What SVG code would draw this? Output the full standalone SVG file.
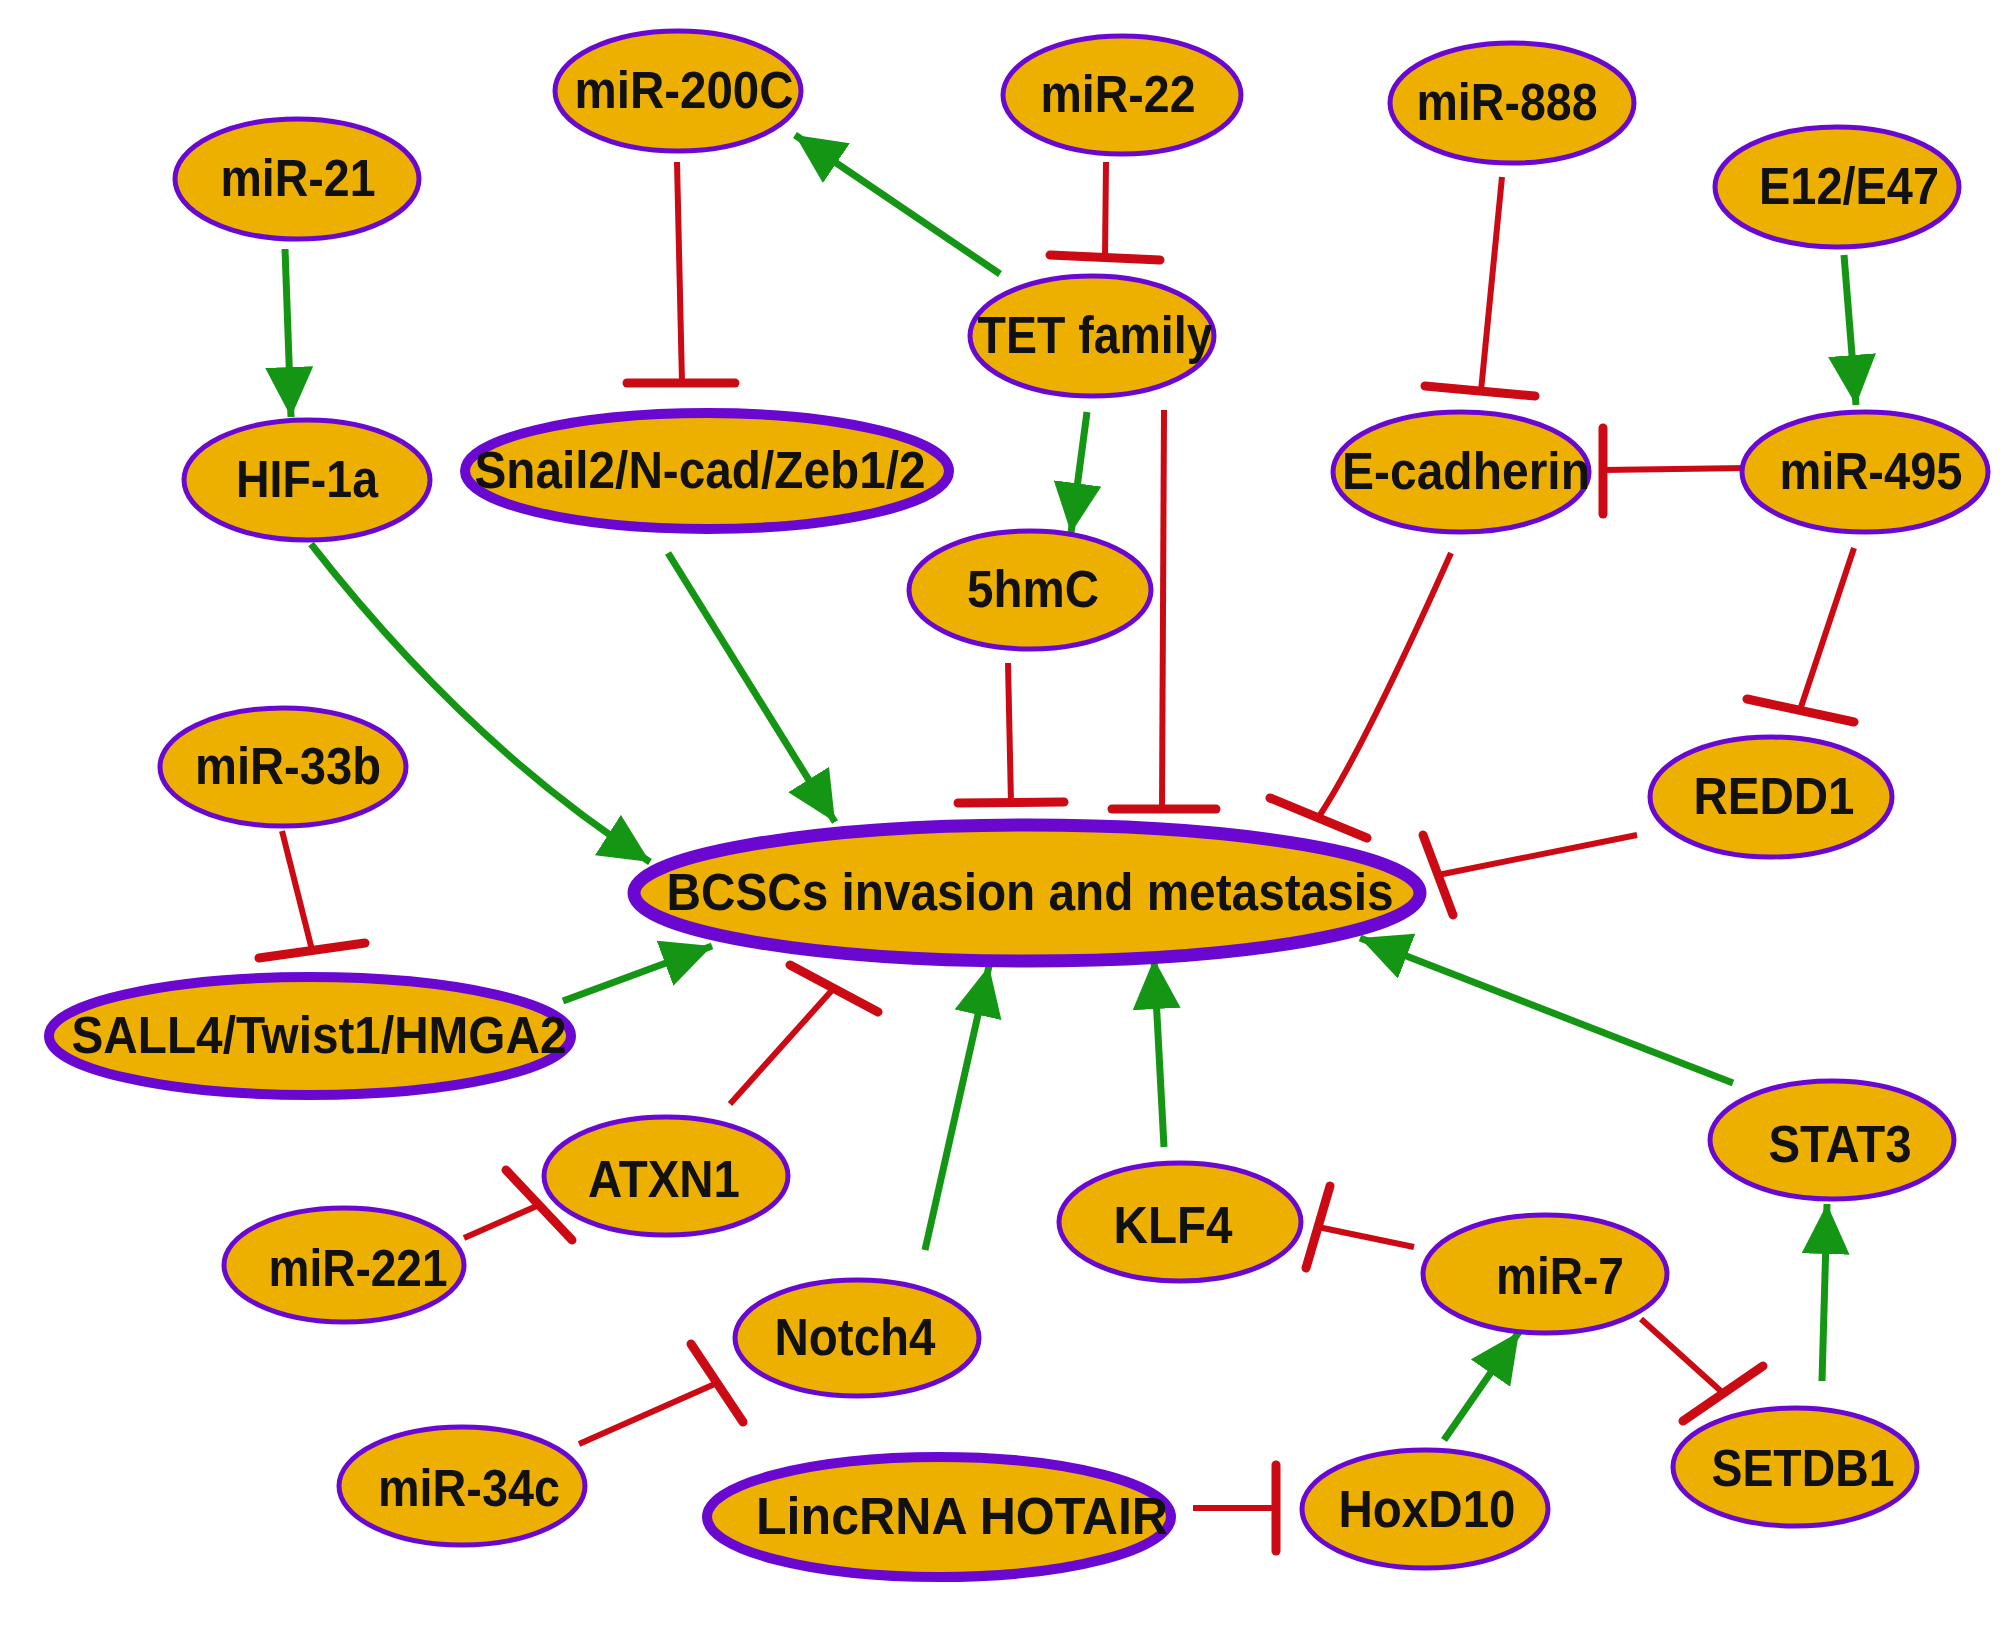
<svg xmlns="http://www.w3.org/2000/svg" width="2008" height="1636" viewBox="0 0 2008 1636">
<style>
.n ellipse{fill:#EEB000;stroke:#6A08D2;stroke-width:5}
.n.k ellipse{stroke-width:10}
.n.kk ellipse{stroke-width:13}
.n text{font-family:"Liberation Sans",Arial,sans-serif;font-weight:bold;font-size:51px;fill:#111;text-anchor:middle}
.act{fill:none;stroke:#149614;stroke-width:7;marker-end:url(#ah)}
.inh{fill:none;stroke:#CC0A14;stroke-width:6}
.bar{stroke:#CC0A14;stroke-width:9;stroke-linecap:round}
</style>
<defs>
<marker id="ah" markerUnits="userSpaceOnUse" viewBox="0 0 50 48" refX="50" refY="24" markerWidth="50" markerHeight="48" orient="auto">
<path d="M0,0 L50,24 L0,48 Z" fill="#149614"/>
</marker>
</defs>
<rect width="2008" height="1636" fill="#fff"/>
<g id="connectors">
<path class="act" d="M285,249 L291,417"/>
<path class="act" d="M1000,274 L795,135"/>
<path class="act" d="M1087,412 L1071,533"/>
<path class="act" d="M1844,255 L1856,405"/>
<path class="act" d="M311,544 Q469,746 650,862"/>
<path class="act" d="M668,553 L835,822"/>
<path class="act" d="M563,1001 L712,946"/>
<path class="act" d="M925,1250 L989,966"/>
<path class="act" d="M1164,1147 L1154,959"/>
<path class="act" d="M1733,1083 L1360,938"/>
<path class="act" d="M1822,1381 L1827,1204"/>
<path class="act" d="M1444,1440 L1519,1332"/>
<path class="inh" d="M677,162 L682,383"/>
<line class="bar" x1="627" y1="383" x2="735" y2="383"/>
<path class="inh" d="M1106,162 L1105,258"/>
<line class="bar" x1="1050" y1="255" x2="1160" y2="260"/>
<path class="inh" d="M1164,410 L1162,809"/>
<line class="bar" x1="1112" y1="809" x2="1216" y2="809"/>
<path class="inh" d="M1008,663 L1011,803"/>
<line class="bar" x1="958" y1="803" x2="1064" y2="802"/>
<path class="inh" d="M1451,553 Q1362,752 1318,818"/>
<line class="bar" x1="1270" y1="798" x2="1367" y2="838"/>
<path class="inh" d="M1502,177 L1481,391"/>
<line class="bar" x1="1425" y1="386" x2="1535" y2="396"/>
<path class="inh" d="M1747,468 L1603,470"/>
<line class="bar" x1="1603" y1="428" x2="1603" y2="514"/>
<path class="inh" d="M1854,548 L1800,710"/>
<line class="bar" x1="1747" y1="699" x2="1854" y2="722"/>
<path class="inh" d="M1637,835 L1438,875"/>
<line class="bar" x1="1423" y1="835" x2="1453" y2="915"/>
<path class="inh" d="M282,831 L312,950"/>
<line class="bar" x1="259" y1="958" x2="365" y2="943"/>
<path class="inh" d="M730,1104 L834,988"/>
<line class="bar" x1="790" y1="965" x2="878" y2="1012"/>
<path class="inh" d="M464,1238 L539,1205"/>
<line class="bar" x1="506" y1="1170" x2="572" y2="1240"/>
<path class="inh" d="M579,1444 L717,1383"/>
<line class="bar" x1="691" y1="1344" x2="743" y2="1422"/>
<path class="inh" d="M1414,1247 L1318,1227"/>
<line class="bar" x1="1330" y1="1186" x2="1306" y2="1268"/>
<path class="inh" d="M1641,1319 L1723,1393"/>
<line class="bar" x1="1683" y1="1421" x2="1763" y2="1366"/>
<path class="inh" d="M1193,1508 L1276,1508"/>
<line class="bar" x1="1276" y1="1465" x2="1276" y2="1551"/>
</g>
<g id="miR-200C" class="n"><ellipse cx="678" cy="91" rx="123" ry="60"/><text x="684" y="108" textLength="219" lengthAdjust="spacingAndGlyphs">miR-200C</text></g>
<g id="miR-22" class="n"><ellipse cx="1122" cy="95" rx="119" ry="59"/><text x="1118" y="112" textLength="155" lengthAdjust="spacingAndGlyphs">miR-22</text></g>
<g id="miR-888" class="n"><ellipse cx="1512" cy="103" rx="122" ry="60"/><text x="1507" y="120" textLength="181" lengthAdjust="spacingAndGlyphs">miR-888</text></g>
<g id="miR-21" class="n"><ellipse cx="297" cy="179" rx="122" ry="60"/><text x="298" y="196" textLength="155" lengthAdjust="spacingAndGlyphs">miR-21</text></g>
<g id="E12E47" class="n"><ellipse cx="1837" cy="187" rx="122" ry="60"/><text x="1849" y="204" textLength="180" lengthAdjust="spacingAndGlyphs">E12/E47</text></g>
<g id="TET" class="n"><ellipse cx="1092" cy="336" rx="122" ry="60"/><text x="1095" y="353" textLength="235" lengthAdjust="spacingAndGlyphs">TET family</text></g>
<g id="HIF-1a" class="n"><ellipse cx="307" cy="480" rx="123" ry="60"/><text x="307" y="497" textLength="142" lengthAdjust="spacingAndGlyphs">HIF-1a</text></g>
<g id="Snail2" class="n k"><ellipse cx="707" cy="471" rx="242" ry="58"/><text x="700" y="488" textLength="451" lengthAdjust="spacingAndGlyphs">Snail2/N-cad/Zeb1/2</text></g>
<g id="E-cadherin" class="n"><ellipse cx="1461" cy="472" rx="128" ry="60"/><text x="1466" y="489" textLength="248" lengthAdjust="spacingAndGlyphs">E-cadherin</text></g>
<g id="miR-495" class="n"><ellipse cx="1865" cy="472" rx="123" ry="60"/><text x="1871" y="489" textLength="183" lengthAdjust="spacingAndGlyphs">miR-495</text></g>
<g id="5hmC" class="n"><ellipse cx="1030" cy="590" rx="121" ry="59"/><text x="1033" y="607" textLength="132" lengthAdjust="spacingAndGlyphs">5hmC</text></g>
<g id="miR-33b" class="n"><ellipse cx="283" cy="767" rx="123" ry="59"/><text x="288" y="784" textLength="186" lengthAdjust="spacingAndGlyphs">miR-33b</text></g>
<g id="REDD1" class="n"><ellipse cx="1771" cy="797" rx="121" ry="60"/><text x="1774" y="814" textLength="161" lengthAdjust="spacingAndGlyphs">REDD1</text></g>
<g id="BCSCs" class="n kk"><ellipse cx="1027" cy="893" rx="393" ry="68"/><text x="1030" y="910" textLength="727" lengthAdjust="spacingAndGlyphs">BCSCs invasion and metastasis</text></g>
<g id="SALL4" class="n k"><ellipse cx="310" cy="1036" rx="261" ry="59"/><text x="319" y="1053" textLength="495" lengthAdjust="spacingAndGlyphs">SALL4/Twist1/HMGA2</text></g>
<g id="STAT3" class="n"><ellipse cx="1832" cy="1140" rx="122" ry="59"/><text x="1840" y="1162" textLength="143" lengthAdjust="spacingAndGlyphs">STAT3</text></g>
<g id="ATXN1" class="n"><ellipse cx="666" cy="1176" rx="122" ry="59"/><text x="664" y="1197" textLength="152" lengthAdjust="spacingAndGlyphs">ATXN1</text></g>
<g id="KLF4" class="n"><ellipse cx="1180" cy="1222" rx="121" ry="59"/><text x="1173" y="1243" textLength="119" lengthAdjust="spacingAndGlyphs">KLF4</text></g>
<g id="miR-221" class="n"><ellipse cx="344" cy="1265" rx="120" ry="57"/><text x="358" y="1286" textLength="179" lengthAdjust="spacingAndGlyphs">miR-221</text></g>
<g id="miR-7" class="n"><ellipse cx="1545" cy="1274" rx="122" ry="59"/><text x="1560" y="1294" textLength="128" lengthAdjust="spacingAndGlyphs">miR-7</text></g>
<g id="Notch4" class="n"><ellipse cx="857" cy="1338" rx="122" ry="58"/><text x="855" y="1355" textLength="161" lengthAdjust="spacingAndGlyphs">Notch4</text></g>
<g id="SETDB1" class="n"><ellipse cx="1795" cy="1467" rx="122" ry="59"/><text x="1803" y="1486" textLength="183" lengthAdjust="spacingAndGlyphs">SETDB1</text></g>
<g id="miR-34c" class="n"><ellipse cx="462" cy="1486" rx="123" ry="59"/><text x="469" y="1506" textLength="182" lengthAdjust="spacingAndGlyphs">miR-34c</text></g>
<g id="HoxD10" class="n"><ellipse cx="1425" cy="1509" rx="123" ry="59"/><text x="1427" y="1527" textLength="177" lengthAdjust="spacingAndGlyphs">HoxD10</text></g>
<g id="LincRNA" class="n k"><ellipse cx="939" cy="1517" rx="232" ry="60"/><text x="962" y="1534" textLength="412" lengthAdjust="spacingAndGlyphs">LincRNA HOTAIR</text></g>
</svg>
